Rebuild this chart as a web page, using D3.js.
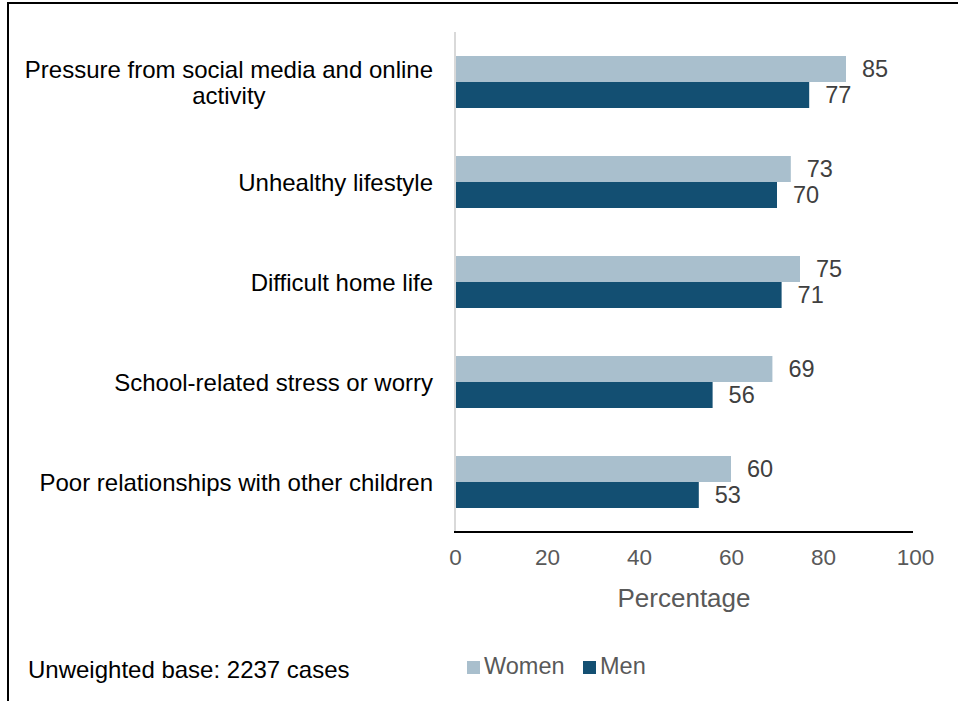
<!DOCTYPE html>
<html>
<head>
<meta charset="utf-8">
<script src="https://cdn.jsdelivr.net/npm/d3@7"></script>
<style>
  html, body { margin: 0; padding: 0; background: #fff; }
  svg { display: block; font-family: Arial, "Liberation Sans", sans-serif; }
</style>
</head>
<body>
<svg id="chart" width="958" height="701"></svg>
<script>
// chart data
var categories = [
  ["Pressure from social media and online", "activity"],
  ["Unhealthy lifestyle"],
  ["Difficult home life"],
  ["School-related stress or worry"],
  ["Poor relationships with other children"]
];
var seriesNames = ["Women", "Men"];
var women = [85, 73, 75, 69, 60];
var men = [77, 70, 71, 56, 53];
var xTicks = [0, 20, 40, 60, 80, 100];
var colors = ["#a9bfcd", "#134f72"];

var svg = d3.select("#chart");

// frame (left and top edges only are visible)
svg.append("line").attr("x1", 8).attr("x2", 958).attr("y1", 3).attr("y2", 3)
  .attr("stroke", "#000").attr("stroke-width", 2);
svg.append("line").attr("x1", 8).attr("x2", 8).attr("y1", 2).attr("y2", 701)
  .attr("stroke", "#000").attr("stroke-width", 2);

var x = d3.scaleLinear().domain([0, 100]).range([455, 915]);
var y = d3.scaleBand().domain(d3.range(categories.length)).range([32, 532]).paddingInner(0.48).paddingOuter(0.24);
var sub = d3.scaleBand().domain([0, 1]).range([0, y.bandwidth()]);

var rows = categories.map(function(c, i) {
  return { label: c, vals: [women[i], men[i]] };
});

// y axis line (light gray)
svg.append("line").attr("x1", x(0)).attr("x2", x(0)).attr("y1", 32).attr("y2", 532)
  .attr("stroke", "#d9d9d9").attr("stroke-width", 2);

var g = svg.append("g").selectAll("g").data(rows).enter().append("g")
  .attr("transform", function(d, i) { return "translate(0," + y(i) + ")"; });

g.selectAll("rect").data(function(d) { return d.vals; }).enter().append("rect")
  .attr("x", x(0) + 1)
  .attr("y", function(d, j) { return sub(j); })
  .attr("width", function(d) { return x(d) - x(0) - 1; })
  .attr("height", sub.bandwidth())
  .attr("fill", function(d, j) { return colors[j]; });

g.selectAll("text.val").data(function(d) { return d.vals; }).enter().append("text")
  .attr("class", "val")
  .attr("x", function(d) { return x(d) + 16; })
  .attr("y", function(d, j) { return sub(j) + sub.bandwidth() / 2; })
  .attr("dy", "0.36em")
  .attr("font-size", 23.5)
  .attr("fill", "#404040")
  .text(function(d) { return d; });

// category labels
g.append("text")
  .attr("text-anchor", "middle")
  .attr("font-size", 24)
  .attr("fill", "#000")
  .each(function(d) {
    var t = d3.select(this);
    var n = d.label.length;
    var lineH = 26;
    var w = 0;
    d.label.forEach(function(s, k) {
      t.append("tspan").attr("x", 0)
        .attr("y", y.bandwidth() / 2 + (k - (n - 1) / 2) * lineH)
        .attr("dy", "0.36em").text(s);
    });
    // right-align the whole block at x = 433
    w = this.getBBox().width;
    t.selectAll("tspan").attr("x", 433 - w / 2);
  });

// x axis
var xAxis = svg.append("g").attr("transform", "translate(0,532)")
  .call(d3.axisBottom(x).tickValues(xTicks).tickSize(0).tickPadding(17));
xAxis.select(".domain").attr("stroke", "#000").attr("stroke-width", 2)
  .attr("d", "M" + (x(0) - 1) + ",0H" + (x(100) - 2));
xAxis.selectAll(".tick text").attr("font-size", 22.5).attr("fill", "#595959")
  .attr("font-family", "Arial, 'Liberation Sans', sans-serif");

svg.append("text").attr("x", 684).attr("y", 607).attr("text-anchor", "middle")
  .attr("font-size", 26).attr("fill", "#595959").text("Percentage");

// footnote
svg.append("text").attr("x", 28).attr("y", 678).attr("font-size", 24)
  .attr("fill", "#000").text("Unweighted base: 2237 cases");

// legend
var leg = svg.append("g").selectAll("g").data(seriesNames).enter().append("g")
  .attr("transform", function(d, i) { return "translate(" + [467, 583][i] + ",661)"; });
leg.append("rect").attr("width", 13).attr("height", 13)
  .attr("fill", function(d, i) { return colors[i]; });
leg.append("text").attr("x", 17).attr("y", 13)
  .attr("font-size", 23.5).attr("fill", "#595959").text(function(d) { return d; });
</script>
</body>
</html>
